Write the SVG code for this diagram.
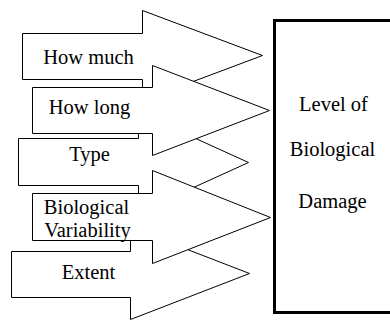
<svg xmlns="http://www.w3.org/2000/svg" width="390" height="321" viewBox="0 0 390 321">
<style>
.arrow{fill:#fff;stroke:#000;stroke-width:1;stroke-linejoin:miter}
.box{fill:#fff;stroke:#000;stroke-width:3}
</style>
<rect width="390" height="321" fill="#fff"/>
<g transform="translate(0.5,0.5)" font-family="Liberation Serif, serif" font-size="20.5" text-anchor="middle" fill="#000">
<g id="how-much">
<polygon class="arrow" points="22,33 142,33 142,10 262,55 142,100 142,79 22,79"/>
<text x="88" y="63">How much</text>
</g>
<g id="type">
<polygon class="arrow" points="18,138 138,138 138,112 248,162 138,212 138,185 18,185"/>
<text x="89" y="160">Type</text>
</g>
<g id="extent">
<polygon class="arrow" points="11,251 130,251 130,227 249,273 130,319 130,297 11,297"/>
<text x="88" y="278">Extent</text>
</g>
<g id="how-long">
<polygon class="arrow" points="32,87 152,87 152,65 269,110 152,155 152,133 32,133"/>
<text x="89" y="113">How long</text>
</g>
<g id="biological-variability">
<polygon class="arrow" points="32,193 152,193 152,170 270,217 152,263 152,240 32,240"/>
<text x="86" y="213">Biological</text>
<text x="87" y="236">Variability</text>
</g>
<g id="damage">
<rect class="box" x="274" y="20" width="130" height="292"/>
<text x="333" y="110">Level of</text>
<text x="332" y="155">Biological</text>
<text x="332" y="207">Damage</text>
</g>
<g id="connectors"/>
</g>
</svg>
